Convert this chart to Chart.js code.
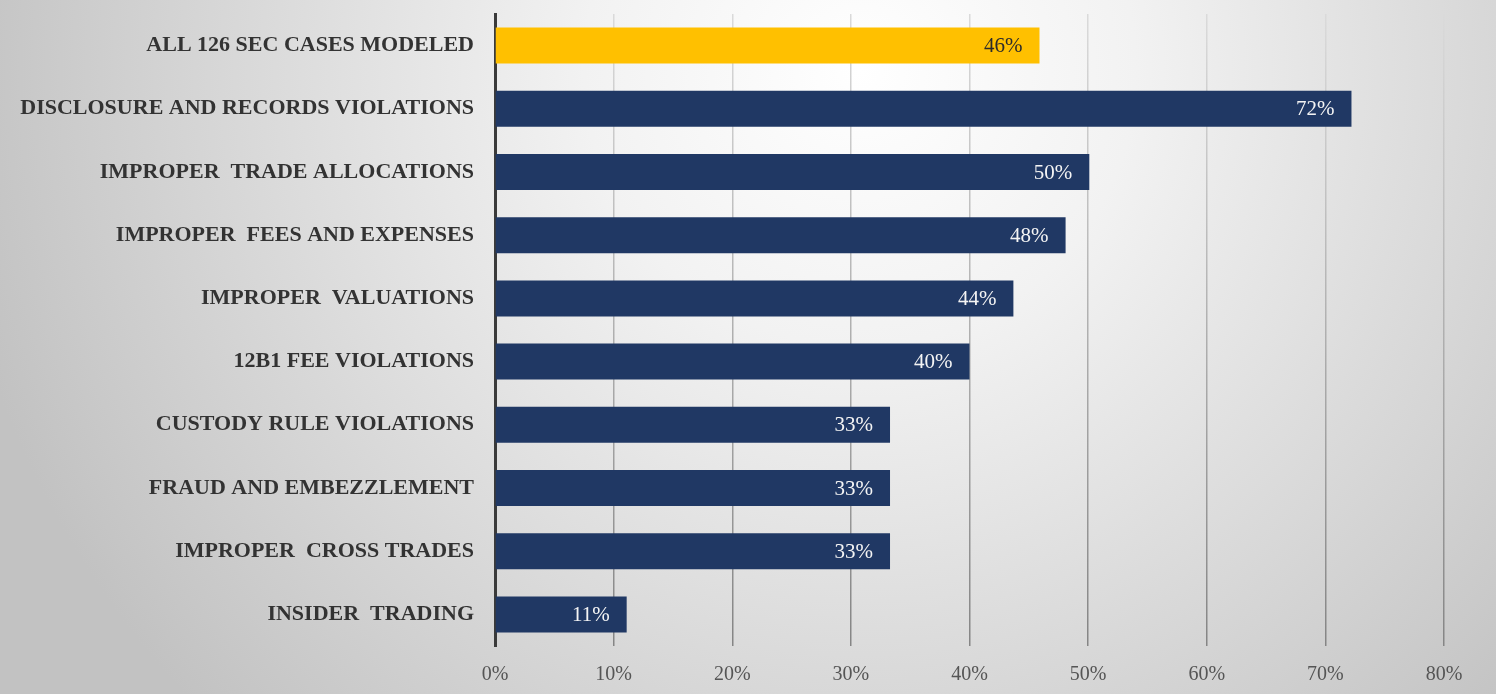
<!DOCTYPE html>
<html>
<head>
<meta charset="utf-8">
<script src="https://cdn.jsdelivr.net/npm/chart.js@4/dist/chart.umd.min.js"></script>
<style>
html,body{margin:0;padding:0;background:#d0d0d0;}
#wrap{width:1496px;height:694px;position:relative;}
canvas{display:block;}
</style>
</head>
<body>
<div id="wrap"><canvas id="c" width="1496" height="694"></canvas></div>
<script>
const categories = [
  "ALL 126 SEC CASES MODELED",
  "DISCLOSURE AND RECORDS VIOLATIONS",
  "IMPROPER  TRADE ALLOCATIONS",
  "IMPROPER  FEES AND EXPENSES",
  "IMPROPER  VALUATIONS",
  "12B1 FEE VIOLATIONS",
  "CUSTODY RULE VIOLATIONS",
  "FRAUD AND EMBEZZLEMENT",
  "IMPROPER  CROSS TRADES",
  "INSIDER  TRADING"
];
const values = [45.9, 72.2, 50.1, 48.1, 43.7, 40.0, 33.3, 33.3, 33.3, 11.1];
const valueLabels = ["46%", "72%", "50%", "48%", "44%", "40%", "33%", "33%", "33%", "11%"];
const barColors = ["#FFC000", "#203864", "#203864", "#203864", "#203864", "#203864", "#203864", "#203864", "#203864", "#203864"];
const labelColors = ["#2b2b2b", "#f4f4f4", "#f4f4f4", "#f4f4f4", "#f4f4f4", "#f4f4f4", "#f4f4f4", "#f4f4f4", "#f4f4f4", "#f4f4f4"];
const tickValues = [0, 10, 20, 30, 40, 50, 60, 70, 80];

const SERIF = '"Liberation Serif", "DejaVu Serif", serif';

const bgPlugin = {
  id: 'bg',
  beforeDraw(chart) {
    const ctx = chart.ctx;
    const w = chart.width, h = chart.height;
    ctx.save();
    const g = ctx.createRadialGradient(860, 70, 0, 860, 70, 920);
    g.addColorStop(0, '#ffffff');
    g.addColorStop(0.3, '#f2f2f2');
    g.addColorStop(1, '#c2c2c2');
    ctx.fillStyle = g;
    ctx.fillRect(0, 0, w, h);
    ctx.restore();
  }
};

const valueLabelPlugin = {
  id: 'vlabels',
  afterDatasetsDraw(chart) {
    const ctx = chart.ctx;
    const meta = chart.getDatasetMeta(0);
    ctx.save();
    ctx.font = '21px ' + SERIF;
    ctx.textAlign = 'right';
    ctx.textBaseline = 'middle';
    meta.data.forEach((bar, i) => {
      ctx.fillStyle = labelColors[i];
      ctx.fillText(valueLabels[i], bar.x - 17, bar.y + 1);
    });
    ctx.restore();
  }
};

const ctx = document.getElementById('c').getContext('2d');
const gridGrad = ctx.createLinearGradient(0, 14, 0, 646);
gridGrad.addColorStop(0, '#dadada');
gridGrad.addColorStop(1, '#858585');

new Chart(ctx, {
  type: 'bar',
  data: {
    labels: categories,
    datasets: [{
      data: values,
      backgroundColor: barColors,
      borderWidth: 0,
      barPercentage: 0.57,
      categoryPercentage: 1.0
    }]
  },
  options: {
    indexAxis: 'y',
    responsive: false,
    animation: false,
    layout: { padding: { top: 14, right: 52, bottom: 0, left: 0 } },
    plugins: { legend: { display: false }, tooltip: { enabled: false } },
    scales: {
      x: {
        min: 0, max: 80,
        afterBuildTicks(scale) { scale.ticks = tickValues.map(v => ({ value: v })); },
        afterFit(scale) { scale.height = 48; },
        grid: { color: gridGrad, lineWidth: 1.5, drawTicks: false },
        border: { display: false },
        ticks: {
          color: '#555555',
          font: { family: SERIF, size: 20 },
          padding: 17,
          callback: (v) => v + '%'
        }
      },
      y: {
        grid: { display: false, drawTicks: false },
        border: { display: true, color: '#3a3a3a', width: 3 },
        afterFit(scale) { scale.width = 495; scale.paddingTop = 0; scale.paddingBottom = 0; },
        ticks: {
          color: '#333333',
          font: { family: SERIF, size: 22, weight: 'bold' },
          padding: 21
        }
      }
    }
  },
  plugins: [bgPlugin, valueLabelPlugin]
});
</script>
</body>
</html>
